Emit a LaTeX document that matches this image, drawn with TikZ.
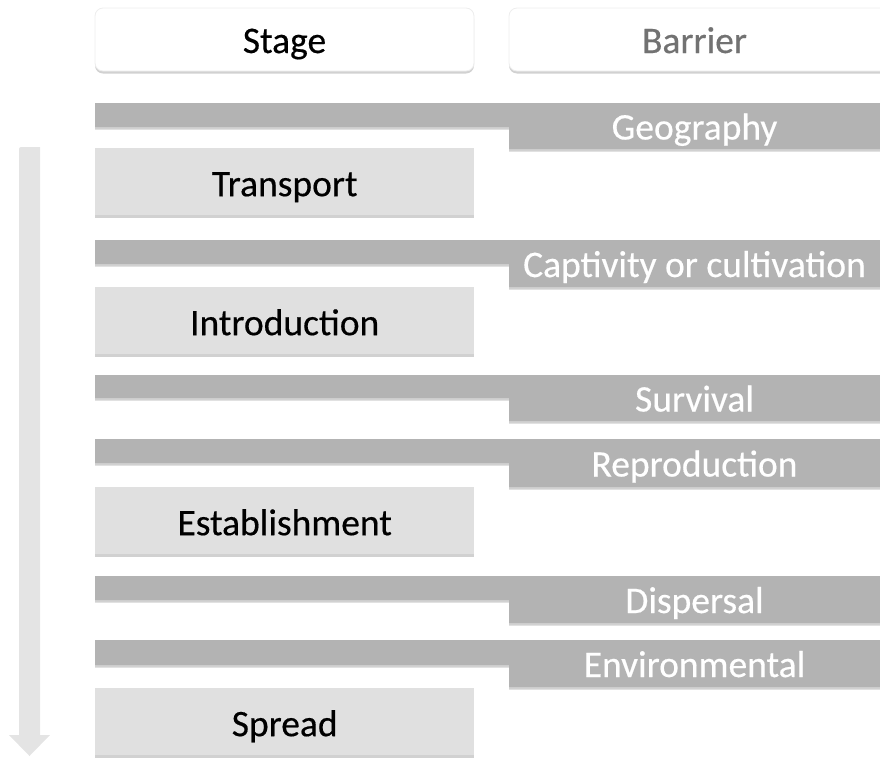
\documentclass[tikz,border=0pt]{standalone}
\usepackage{fontspec}
\setmainfont{Carlito}[FakeBold=0.4]
\usetikzlibrary{shadows}
\definecolor{barfill}{HTML}{B3B3B3}
\definecolor{stagefill}{HTML}{E0E0E0}
\definecolor{arrowfill}{HTML}{E4E4E4}
\definecolor{barriertext}{HTML}{727272}
\tikzset{
  softshadow/.style={drop shadow={opacity=0.18, shadow xshift=0pt, shadow yshift=-2.5pt, fill=black}},
  bigtext/.style={font=\fontsize{37.5}{44}\selectfont, text depth=0pt},
  headbox/.style={fill=white, draw=black!7, line width=0.8pt, rounded corners=8pt, softshadow},
  headlabel/.style={bigtext, inner sep=0pt, text height=27pt},
  stagebox/.style={fill=stagefill, softshadow, minimum width=379pt, minimum height=67pt,
    inner sep=0pt, anchor=north west, bigtext, text height=29pt},
  barshape/.style={fill=barfill, softshadow},
  barlabel/.style={text=white, inner sep=0pt, bigtext, text height=27pt},
}
\begin{document}
\begin{tikzpicture}[x=1pt, y=-1pt]
\useasboundingbox (0,0) rectangle (880,758);

% column headers (the barrier header runs on past the right edge)
\path[headbox] (95,8) rectangle (474,71);
\path[headbox] (509,8) rectangle (905,71);
\node[headlabel] (stagehead) at (284.5,39.5) {Stage};
\node[headlabel, text=barriertext] (barrierhead) at (694.5,39.5) {Barrier};

% progression arrow
\fill[arrowfill] (19,150) to[rounded corners=2pt] (19,147) -- (40,147) -- (40,735)
  -- (50,735) -- (29.5,756) -- (9,735) -- (19,735) -- cycle;

% barriers: a full-width band with a lower step under the barrier column
\foreach \t/\m/\b/\name/\txt in {
    103/127/149/geo/Geography,
    240/264/287/capt/Captivity or cultivation,
    375/398/421/surv/Survival,
    439/463/487/repr/Reproduction,
    576/600/623/disp/Dispersal,
    640/665/687/envi/Environmental} {
  \fill[barshape] (95,\t) -- (905,\t) -- (905,\b) -- (509,\b) -- (509,\m) -- (95,\m) -- cycle;
  \node[barlabel] (\name) at (694.5,{(\t+\b)/2}) {\txt};
}

% stages
\node[stagebox] (transport) at (95,148) {Transport};
\node[stagebox] (intro) at (95,287) {Introduction};
\node[stagebox] (estab) at (95,487) {Establishment};
\node[stagebox] (spread) at (95,688) {Spread};
\end{tikzpicture}
\end{document}
